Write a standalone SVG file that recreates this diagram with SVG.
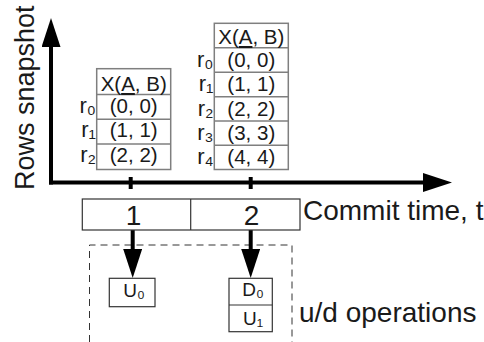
<svg xmlns="http://www.w3.org/2000/svg" width="484" height="342" viewBox="0 0 484 342">
  <style>
    .t { font-family: "Liberation Sans", Arial, "DejaVu Sans", sans-serif; fill: #1a1a1a; }
    .cell { font-size: 20.5px; text-anchor: middle; }
    .rl { font-size: 22px; text-anchor: end; }
    .big { font-size: 28px; }
    .op { font-size: 19px; text-anchor: middle; }
    .tb { fill: #ffffff; stroke: #7f7f7f; stroke-width: 1.5; }
    .tl { stroke: #7f7f7f; stroke-width: 1.5; }
    .bx { fill: #ffffff; stroke: #333333; stroke-width: 1.2; }
    .ax { stroke: #000000; stroke-width: 4; fill: none; }
  </style>
  <defs>
    <marker id="ah" viewBox="0 0 29 19" markerWidth="29" markerHeight="19" refX="1" refY="9.5" orient="auto" markerUnits="userSpaceOnUse">
      <path d="M0,0 L29,9.5 L0,19 Z" fill="#000000"/>
    </marker>
  </defs>

  <rect width="484" height="342" fill="#ffffff"/>

  <g id="dashed-region">
    <path d="M89.5,342 V245 H292 V342" fill="none" stroke="#333333" stroke-width="1" stroke-dasharray="7,5"/>
  </g>

  <g id="connectors">
    <line class="ax" x1="51" y1="184.5" x2="51" y2="46" marker-end="url(#ah)"/>
    <line class="ax" x1="49" y1="182.5" x2="424" y2="182.5" marker-end="url(#ah)"/>
    <line class="ax" x1="130.7" y1="177" x2="130.7" y2="189"/>
    <line class="ax" x1="250.7" y1="177" x2="250.7" y2="189"/>
    <line class="ax" x1="132.7" y1="230" x2="132.7" y2="250" marker-end="url(#ah)"/>
    <line class="ax" x1="250.7" y1="230" x2="250.7" y2="250" marker-end="url(#ah)"/>
  </g>

  <g id="y-label">
    <text class="t" font-size="27" transform="translate(34,190) rotate(-90)">Rows snapshot</text>
  </g>

  <g id="table1">
    <rect class="tb" x="96.7" y="68.7" width="74" height="100.8"/>
    <line class="tl" x1="96.7" y1="94.4" x2="170.7" y2="94.4"/>
    <line class="tl" x1="96.7" y1="119.3" x2="170.7" y2="119.3"/>
    <line class="tl" x1="96.7" y1="144" x2="170.7" y2="144"/>
    <text class="t cell" x="133.7" y="91">X(<tspan text-decoration="underline">A</tspan>, B)</text>
    <text class="t cell" x="133.7" y="112.5">(0, 0)</text>
    <text class="t cell" x="133.7" y="137.3">(1, 1)</text>
    <text class="t cell" x="133.7" y="162.3">(2, 2)</text>
    <text class="t rl" x="96" y="112.5">r₀</text>
    <text class="t rl" x="96" y="137.3">r₁</text>
    <text class="t rl" x="96" y="162.3">r₂</text>
  </g>

  <g id="table2">
    <rect class="tb" x="214.3" y="23.3" width="74" height="146.2"/>
    <line class="tl" x1="214.3" y1="47.7" x2="288.3" y2="47.7"/>
    <line class="tl" x1="214.3" y1="72.3" x2="288.3" y2="72.3"/>
    <line class="tl" x1="214.3" y1="96.7" x2="288.3" y2="96.7"/>
    <line class="tl" x1="214.3" y1="121" x2="288.3" y2="121"/>
    <line class="tl" x1="214.3" y1="145.3" x2="288.3" y2="145.3"/>
    <text class="t cell" x="251.3" y="44">X(<tspan text-decoration="underline">A</tspan>, B)</text>
    <text class="t cell" x="251.3" y="67">(0, 0)</text>
    <text class="t cell" x="251.3" y="91.3">(1, 1)</text>
    <text class="t cell" x="251.3" y="115.6">(2, 2)</text>
    <text class="t cell" x="251.3" y="139.9">(3, 3)</text>
    <text class="t cell" x="251.3" y="164.2">(4, 4)</text>
    <text class="t rl" x="213.5" y="67">r₀</text>
    <text class="t rl" x="213.5" y="91.3">r₁</text>
    <text class="t rl" x="213.5" y="115.6">r₂</text>
    <text class="t rl" x="213.5" y="139.9">r₃</text>
    <text class="t rl" x="213.5" y="164.2">r₄</text>
  </g>

  <g id="commit-time">
    <rect class="bx" x="82.3" y="199" width="217.7" height="31"/>
    <line stroke="#333333" stroke-width="1.2" x1="190.7" y1="199" x2="190.7" y2="230"/>
    <text class="t big" x="133.5" y="224.5" text-anchor="middle">1</text>
    <text class="t big" x="251.5" y="224.5" text-anchor="middle">2</text>
    <text class="t big" x="303" y="220">Commit time, t</text>
  </g>

  <g id="op-u0">
    <rect class="bx" x="109.3" y="278.3" width="45.7" height="28.4"/>
    <text class="t op" x="134" y="296.7">U₀</text>
  </g>

  <g id="op-d0-u1">
    <rect class="bx" x="229" y="278.3" width="43.3" height="53.4"/>
    <line stroke="#333333" stroke-width="1.2" x1="229" y1="305" x2="272.3" y2="305"/>
    <text class="t op" x="253" y="296">D₀</text>
    <text class="t op" x="253" y="325">U₁</text>
  </g>

  <g id="ops-label">
    <text class="t big" x="299" y="322">u/d operations</text>
  </g>
</svg>
